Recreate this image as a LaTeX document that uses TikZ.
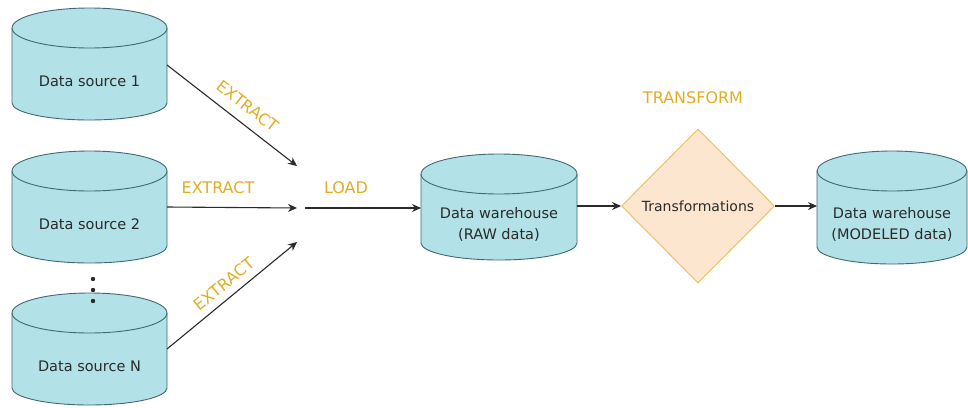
\documentclass[tikz,border=0pt]{standalone}
\usepackage{fontspec}
\setmainfont{DejaVu Sans}
\usetikzlibrary{arrows.meta,shapes.geometric,calc}

\definecolor{dbfill}{HTML}{B2E2E7}
\definecolor{dbline}{HTML}{3E6A70}
\definecolor{trfill}{HTML}{FDE6CF}
\definecolor{trline}{HTML}{E6C25C}
\definecolor{lbl}{HTML}{E2AC24}
\definecolor{ink}{HTML}{2A2A2A}

% database cylinder: name, left x, right x, top y, bottom y, label
\newcommand\dbcyl[6]{%
  \pgfmathsetmacro\cxl{#2}\pgfmathsetmacro\cxr{#3}%
  \pgfmathsetmacro\crx{(#3-#2)/2}%
  \pgfmathsetmacro\cyt{#4+20}\pgfmathsetmacro\cyb{#5-17}%
  \path[dbbody] (\cxl,\cyt) -- (\cxl,\cyb)
     arc[start angle=180,end angle=0,x radius=\crx,y radius=17]
     -- (\cxr,\cyt)
     arc[start angle=0,end angle=-180,x radius=\crx,y radius=20] -- cycle;
  \draw[dbedge] (\cxl,\cyt) arc[start angle=180,end angle=0,x radius=\crx,y radius=20];
  \coordinate (#1) at ({(#2+#3)/2},{(#4+#5)/2});
  \coordinate (#1-west) at (#2,{(#4+#5)/2});
  \coordinate (#1-east) at (#3,{(#4+#5)/2});
  \node[dbtext] (#1-txt) at ({(#2+#3)/2},{(#4+20+#5)/2+7}) {#6};
}

\tikzset{
  dbbody/.style={fill=dbfill, draw=dbline, line width=0.9pt},
  dbedge/.style={draw=dbline, line width=0.9pt},
  dbtext/.style={inner sep=0pt, text=ink, font=\fontsize{14.5}{21}\selectfont, align=center},
  flow/.style={draw=ink, line width=1.1pt, -{Stealth[length=9pt,width=8pt]}},
  tag/.style={text=lbl, inner sep=1pt, font=\fontsize{16}{18}\selectfont},
}

\begin{document}
\begin{tikzpicture}[x=1pt,y=-1pt]
  \useasboundingbox (0,0) rectangle (968,407);

  % sources
  \dbcyl{s1}{12}{167}{8}{120}{Data source 1}
  \dbcyl{s2}{12}{167}{151}{263}{Data source 2}
  \dbcyl{sN}{12}{167}{293}{405}{Data source N}

  % ellipsis between the sources
  \foreach \yy in {279,290,301}
    \fill[ink] (93,\yy) circle[radius=2.2];

  % warehouse stages
  \dbcyl{raw}{421}{577}{154}{260}{Data warehouse\\(RAW data)}
  \node[diamond, draw=trline, fill=trfill, line width=0.9pt, inner sep=0pt,
        minimum width=153pt, minimum height=154pt, text=ink,
        font=\fontsize{14}{16}\selectfont] (tr) at (698,206) {Transformations};
  \dbcyl{mod}{817}{967}{151}{264}{Data warehouse\\(MODELED data)}

  % converging point of the extract arrows
  \coordinate (h1) at (297,166);
  \coordinate (h2) at (297,208);
  \coordinate (h3) at (297,242);
  \coordinate (hs) at (305,208);

  \draw[flow] ($(s1-east)+(0,1)$) -- (h1);
  \draw[flow] (s2-east) -- (h2);
  \draw[flow] (sN-east) -- (h3);
  \draw[flow] (hs) -- (raw-west |- hs);
  \draw[flow] (raw-east |- tr.west) -- (tr.west);
  \draw[flow] (tr.east) -- (mod-west |- tr.east);

  % stage labels
  \node[tag, rotate=-38] (e1) at (248,106) {EXTRACT};
  \node[tag] (e2) at (218,188) {EXTRACT};
  \node[tag, rotate=39] (e3) at (224,284) {EXTRACT};
  \node[tag] (ld) at (346,188) {LOAD};
  \node[tag] (tf) at (693,98) {TRANSFORM};
\end{tikzpicture}
\end{document}
